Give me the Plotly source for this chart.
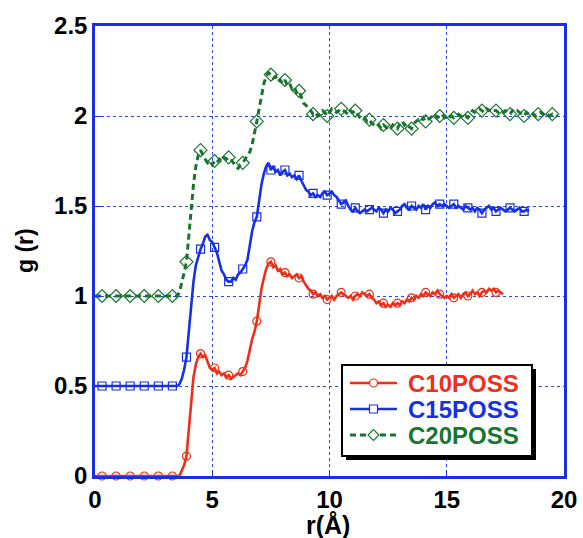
import plotly.graph_objects as go

# Sampling grid of the radial distribution (Å), 0.1 Å spacing
STEP = 0.1

# g(r) for each system (C15 and C20 curves carry +0.5 and +1.0 offsets)
g_c10 = [0.00] * 37 + [
    0.03, 0.06, 0.11, 0.25, 0.42, 0.55, 0.62, 0.66, 0.68, 0.66,
    0.67, 0.63, 0.60, 0.59, 0.60, 0.57, 0.58, 0.56, 0.57, 0.55,
    0.56, 0.54, 0.55, 0.56, 0.57, 0.56, 0.58, 0.60, 0.64, 0.70,
    0.76, 0.80, 0.86, 0.95, 1.04, 1.10, 1.15, 1.18, 1.19, 1.16,
    1.17, 1.14, 1.15, 1.12, 1.13, 1.11, 1.12, 1.10, 1.11, 1.12,
    1.10, 1.11, 1.08, 1.06, 1.04, 1.03, 1.01, 1.02, 1.00, 1.01,
    0.99, 1.00, 0.98, 0.99, 1.00, 0.98, 1.00, 1.01, 1.02, 1.01,
    1.00, 0.99, 1.00, 0.98, 1.00, 1.01, 1.00, 1.02, 1.01, 1.00,
    1.01, 0.99, 0.98, 0.96, 0.97, 0.95, 0.96, 0.94, 0.95, 0.94,
    0.96, 0.95, 0.96, 0.95, 0.97, 0.96, 0.98, 0.97, 0.99, 0.98,
    1.00, 0.99, 1.01, 1.00, 1.02, 1.01, 1.00, 1.02, 1.01, 1.03,
    1.01, 1.00, 0.99, 1.00, 0.99, 1.01, 0.99, 1.00, 1.01, 0.99,
    1.01, 1.02, 1.00, 1.01, 1.03, 1.01, 1.02, 1.00, 1.02, 1.03,
    1.02, 1.04, 1.03, 1.04, 1.02, 1.03, 1.02, 1.01,
]

g_c15 = [0.50] * 36 + [
    0.51, 0.54, 0.59, 0.66, 0.80, 0.95, 1.08, 1.17, 1.22, 1.26,
    1.29, 1.33, 1.34, 1.31, 1.30, 1.27, 1.24, 1.19, 1.14, 1.12,
    1.09, 1.08, 1.08, 1.10, 1.09, 1.12, 1.13, 1.15, 1.17, 1.20,
    1.28, 1.36, 1.41, 1.44, 1.53, 1.62, 1.68, 1.72, 1.74, 1.70,
    1.72, 1.69, 1.70, 1.67, 1.69, 1.70, 1.67, 1.68, 1.66, 1.67,
    1.65, 1.67, 1.64, 1.61, 1.59, 1.58, 1.56, 1.57, 1.55, 1.56,
    1.55, 1.57, 1.58, 1.56, 1.57, 1.58, 1.56, 1.55, 1.53, 1.51,
    1.52, 1.53, 1.50, 1.48, 1.47, 1.49, 1.47, 1.46, 1.47, 1.48,
    1.47, 1.48, 1.49, 1.48, 1.47, 1.49, 1.48, 1.46, 1.48, 1.47,
    1.49, 1.48, 1.46, 1.47, 1.48, 1.50, 1.51, 1.49, 1.48, 1.50,
    1.49, 1.48, 1.50, 1.49, 1.51, 1.48, 1.50, 1.49, 1.51, 1.52,
    1.50, 1.51, 1.50, 1.51, 1.50, 1.49, 1.50, 1.51, 1.49, 1.50,
    1.49, 1.48, 1.50, 1.49, 1.48, 1.49, 1.47, 1.49, 1.48, 1.46,
    1.48, 1.49, 1.50, 1.48, 1.49, 1.47, 1.48, 1.49, 1.48, 1.47,
    1.48, 1.49, 1.48, 1.47, 1.48, 1.49, 1.47, 1.47, 1.48, 1.47,
]

g_c20 = [1.00] * 36 + [
    1.02, 1.07, 1.13, 1.19, 1.35, 1.50, 1.62, 1.72, 1.78, 1.81,
    1.78, 1.76, 1.74, 1.75, 1.73, 1.75, 1.74, 1.76, 1.75, 1.77,
    1.76, 1.77, 1.76, 1.74, 1.72, 1.71, 1.73, 1.74, 1.76, 1.78,
    1.80, 1.84, 1.90, 1.97, 2.04, 2.12, 2.18, 2.22, 2.24, 2.23,
    2.21, 2.22, 2.19, 2.20, 2.18, 2.20, 2.17, 2.18, 2.15, 2.16,
    2.13, 2.14, 2.10, 2.07, 2.06, 2.04, 2.03, 2.01, 2.02, 2.00,
    2.01, 2.03, 2.02, 2.00, 2.02, 2.04, 2.03, 2.02, 2.03, 2.04,
    2.03, 2.02, 2.01, 2.03, 2.02, 2.03, 2.01, 1.99, 1.98, 1.99,
    1.97, 1.98, 1.96, 1.95, 1.94, 1.95, 1.93, 1.95, 1.94, 1.92,
    1.93, 1.95, 1.94, 1.93, 1.96, 1.97, 1.95, 1.96, 1.94, 1.93,
    1.96, 1.97, 1.98, 1.97, 1.99, 1.97, 1.98, 1.99, 2.00, 2.01,
    1.99, 2.00, 2.01, 1.99, 2.00, 1.99, 2.00, 1.99, 2.00, 2.01,
    2.00, 1.99, 2.00, 1.99, 2.01, 2.03, 2.02, 2.03, 2.04, 2.03,
    2.02, 2.04, 2.03, 2.04, 2.03, 2.03, 2.02, 2.03, 2.02, 2.03,
    2.02, 2.01, 2.03, 2.02, 2.03, 2.02, 2.01, 2.00, 2.02, 2.01,
    2.02, 2.01, 2.00, 2.01, 2.02, 2.01, 2.00, 2.01, 2.00, 2.01,
    2.00, 2.00,
]

series_names = ["C10POSS", "C15POSS", "C20POSS"]
series_values = [g_c10, g_c15, g_c20]

x_ticks = [0, 5, 10, 15, 20]
y_ticks = [0, 0.5, 1, 1.5, 2, 2.5]

# Styling
colors = ["#ee2f1a", "#1630e4", "#17752e"]
symbols = ["circle-open", "square-open", "diamond-open"]
marker_sizes = [8, 8, 10]
dashes = ["solid", "solid", "6px,4px"]
frame_blue = "#1a2ee6"
grid_blue = "#2f44f2"
FONT = "Liberation Sans, Arial, sans-serif"
MARK_EVERY = 6
MARK_START = 3

# Figure geometry (pixels)
W, H = 583, 538
ML, MR, MT, MB = 95, 19, 26, 62
PW, PH = W - ML - MR, H - MT - MB


def px(xp):
    return (xp - ML) / PW


def py(yp):
    return (H - MB - yp) / PH


fig = go.Figure()

for name, vals, c, sym, ms, dash in zip(series_names, series_values, colors, symbols, marker_sizes, dashes):
    r = [round(i * STEP, 2) for i in range(len(vals))]
    fig.add_trace(go.Scatter(
        x=r, y=vals, mode="lines", name=name, showlegend=False, hoverinfo="skip",
        line=dict(color=c, width=2.6 if dash == "solid" else 3, dash=dash),
    ))
    fig.add_trace(go.Scatter(
        x=r[MARK_START::MARK_EVERY], y=vals[MARK_START::MARK_EVERY], mode="markers",
        name=name, showlegend=False, cliponaxis=False,
        marker=dict(symbol=sym, size=ms, color=c, line=dict(width=1.2, color=c)),
    ))

# Legend box with drop shadow
bx0, bx1, by0, by1 = 342, 532, 365, 456
sh = 4
fig.add_shape(type="rect", xref="paper", yref="paper",
              x0=px(bx0 + sh), x1=px(bx1 + sh), y0=py(by1 + sh), y1=py(by0 + sh),
              fillcolor="black", line=dict(width=0), layer="above")
fig.add_shape(type="rect", xref="paper", yref="paper",
              x0=px(bx0), x1=px(bx1), y0=py(by1), y1=py(by0),
              fillcolor="white", line=dict(color="black", width=2), layer="above")

row_y = [383, 409, 435]
lx0, lx1, mx, tx = 350, 397, 373.5, 406
for name, c, sym, dash, yy in zip(series_names, colors, symbols, dashes, row_y):
    fig.add_shape(type="line", xref="paper", yref="paper",
                  x0=px(lx0), x1=px(lx1), y0=py(yy), y1=py(yy),
                  line=dict(color=c, width=2.6 if dash == "solid" else 3, dash=dash), layer="above")
    if sym.startswith("circle"):
        rr = 4
        fig.add_shape(type="circle", xref="paper", yref="paper",
                      x0=px(mx - rr), x1=px(mx + rr), y0=py(yy + rr), y1=py(yy - rr),
                      fillcolor="white", line=dict(color=c, width=1.2), layer="above")
    elif sym.startswith("square"):
        rr = 4
        fig.add_shape(type="rect", xref="paper", yref="paper",
                      x0=px(mx - rr), x1=px(mx + rr), y0=py(yy + rr), y1=py(yy - rr),
                      fillcolor="white", line=dict(color=c, width=1.2), layer="above")
    else:
        rr = 5.5
        path = (f"M {px(mx - rr)} {py(yy)} L {px(mx)} {py(yy - rr)} "
                f"L {px(mx + rr)} {py(yy)} L {px(mx)} {py(yy + rr)} Z")
        fig.add_shape(type="path", xref="paper", yref="paper", path=path,
                      fillcolor="white", line=dict(color=c, width=1.2), layer="above")
    fig.add_annotation(xref="paper", yref="paper", x=px(tx), y=py(yy),
                       xanchor="left", yanchor="middle", showarrow=False,
                       text=name, font=dict(family=FONT, size=24, color=c, weight="bold"))

# Axis titles
fig.add_annotation(xref="paper", yref="paper", x=px(328), y=py(525),
                   xanchor="center", yanchor="middle", showarrow=False,
                   text="r(Å)", font=dict(family=FONT, size=25, color="black", weight="bold"))
fig.add_annotation(xref="paper", yref="paper", x=px(25), y=py(251),
                   xanchor="center", yanchor="middle", showarrow=False, textangle=-90,
                   text="g (r)", font=dict(family=FONT, size=23, color="black", weight="bold"))

axis_common = dict(
    showline=True, linecolor=frame_blue, linewidth=2.5, mirror=True,
    showgrid=True, gridcolor=grid_blue, gridwidth=1, griddash="dot",
    ticks="inside", ticklen=6, tickcolor=frame_blue, tickwidth=1,
    tickfont=dict(family=FONT, size=24, color="black", weight="bold"),
    zeroline=False, automargin=False,
)

fig.update_layout(
    width=W, height=H,
    margin=dict(l=ML, r=MR, t=MT, b=MB),
    paper_bgcolor="white", plot_bgcolor="white",
    showlegend=False,
    xaxis=dict(range=[0, 20], tickvals=x_ticks, ticktext=[str(v) for v in x_ticks], **axis_common),
    yaxis=dict(range=[0, 2.5], tickvals=y_ticks, ticktext=["0", "0.5", "1", "1.5", "2", "2.5"],
               **axis_common),
)

fig.write_html("out.html")
